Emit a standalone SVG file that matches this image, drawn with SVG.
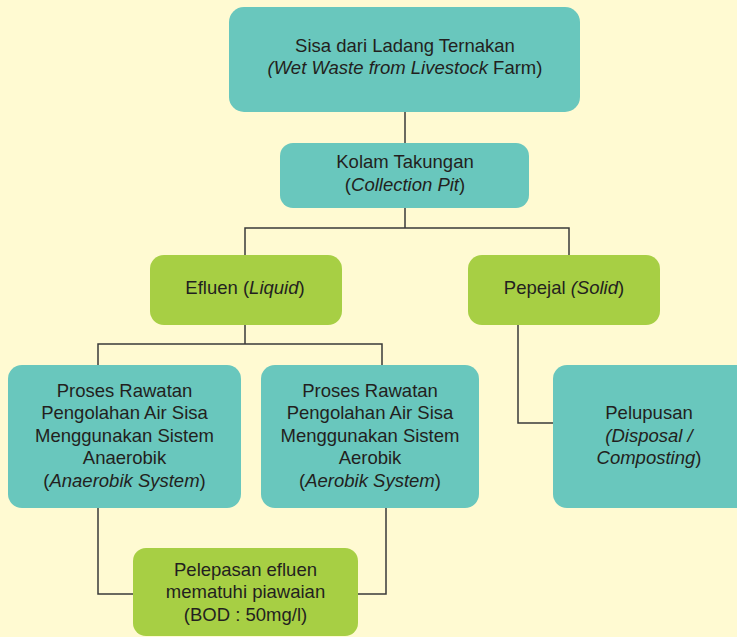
<svg xmlns="http://www.w3.org/2000/svg" width="737" height="637" viewBox="0 0 737 637">
<style>
.t{fill:#69C7BD}
.g{fill:#A7CF44}
text{font-family:"Liberation Sans",Arial,sans-serif;font-size:18.5px;fill:#231F20;text-anchor:middle}
.i{font-style:italic}
.c{fill:none;stroke:#3A3A3A;stroke-width:1.5}
</style>
<rect width="737" height="637" fill="#FFFAD2"/>
<g id="connectors" class="c">
<path d="M405 112V143"/>
<path d="M405 208V228M245 255V228H569V255"/>
<path d="M245 325V344M98 366V344H382V366"/>
<path d="M518 325V423H553"/>
<path d="M98 508V594H133"/>
<path d="M386 508V594H358"/>
</g>
<g id="n1"><rect class="t" x="229" y="7" width="351" height="105" rx="15"/>
<text x="405" y="52">Sisa dari Ladang Ternakan</text>
<text x="405" y="74"><tspan class="i">(Wet Waste from Livestock</tspan> Farm)</text></g>
<g id="n2"><rect class="t" x="280" y="143" width="249" height="65" rx="13"/>
<text x="405" y="168">Kolam Takungan</text>
<text x="405" y="191">(<tspan class="i">Collection Pit</tspan>)</text></g>
<g id="n3"><rect class="g" x="150" y="255" width="192" height="70" rx="14"/>
<text x="245" y="294">Efluen (<tspan class="i">Liquid</tspan>)</text></g>
<g id="n4"><rect class="g" x="468" y="255" width="192" height="70" rx="14"/>
<text x="564" y="294">Pepejal <tspan class="i">(Solid</tspan>)</text></g>
<g id="n5"><rect class="t" x="8" y="365" width="233" height="143" rx="14"/>
<text x="124.5" y="397">Proses Rawatan</text>
<text x="124.5" y="419">Pengolahan Air Sisa</text>
<text x="124.5" y="442">Menggunakan Sistem</text>
<text x="124.5" y="464">Anaerobik</text>
<text x="124.5" y="487">(<tspan class="i">Anaerobik System</tspan>)</text></g>
<g id="n6"><rect class="t" x="261" y="365" width="218" height="143" rx="14"/>
<text x="370" y="397">Proses Rawatan</text>
<text x="370" y="419">Pengolahan Air Sisa</text>
<text x="370" y="442">Menggunakan Sistem</text>
<text x="370" y="464">Aerobik</text>
<text x="370" y="487">(<tspan class="i">Aerobik System</tspan>)</text></g>
<g id="n7"><rect class="t" x="553" y="365" width="200" height="143" rx="14"/>
<text x="649" y="419">Pelupusan</text>
<text x="649" y="442" class="i">(Disposal /</text>
<text x="649" y="464"><tspan class="i">Composting</tspan>)</text></g>
<g id="n8"><rect class="g" x="133" y="548" width="225" height="88" rx="13"/>
<text x="245.5" y="576">Pelepasan efluen</text>
<text x="245.5" y="598">mematuhi piawaian</text>
<text x="245.5" y="621">(BOD : 50mg/l)</text></g>
</svg>
